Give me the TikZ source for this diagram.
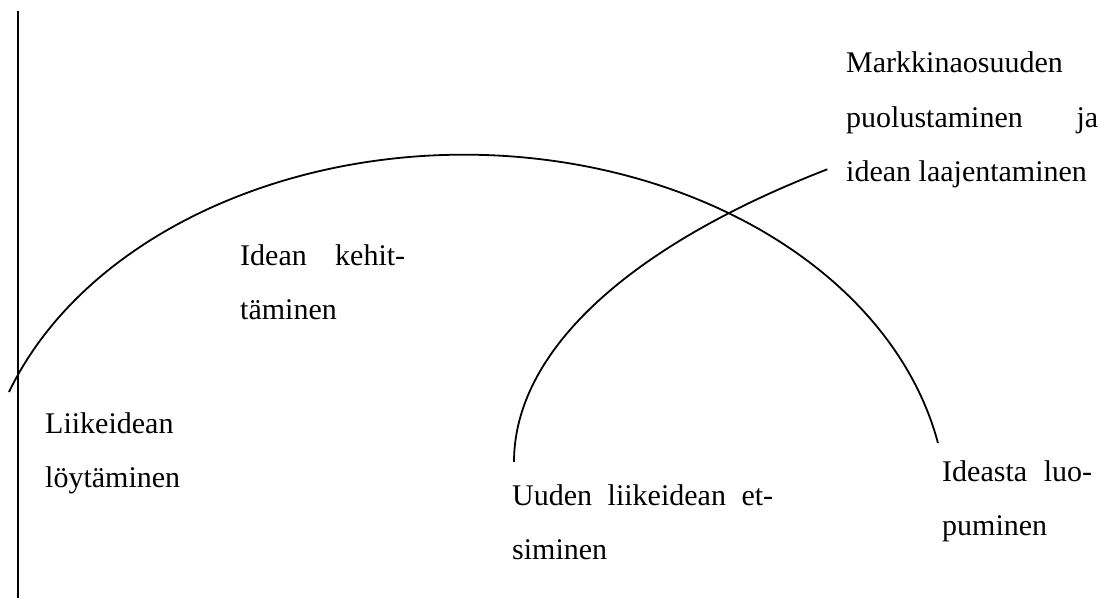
\documentclass[tikz,border=0pt]{standalone}
\usepackage{fontspec}
\setmainfont{Liberation Serif}
\begin{document}
\begin{tikzpicture}[x=1pt,y=1pt,
  curve/.style={line width=1.8pt,black},
  lbl/.style={anchor=base west,inner sep=0pt,font=\fontsize{30}{54.5}\selectfont}]
\useasboundingbox (0,0) rectangle (1111,-607);
% axis
\coordinate (vtop) at (18,-11);
\coordinate (vbot) at (18,-598);
\draw[curve] (vtop) -- (vbot);
% big arc
\coordinate (bigstart) at (9,-392);
\draw[curve] (bigstart) arc[start angle=160.4,end angle=11.1,x radius=483,y radius=357];
% small arc
\coordinate (smallstart) at (514,-462);
\draw[curve] (smallstart) arc[start angle=180,end angle=135,x radius=1070,y radius=414];
% labels
\node[lbl] (find) at (45,-433) {\vtop{\hbox{Liikeidean}\hbox{löytäminen}}};
\node[lbl] (dev) at (240,-265) {\vtop{\hbox{\makebox[165pt][s]{Idean kehit-}}\hbox{täminen}}};
\node[lbl] (new) at (512,-505) {\vtop{\hbox{\makebox[261pt][s]{Uuden liikeidean et-}}\hbox{siminen}}};
\node[lbl] (quit) at (942,-481) {\vtop{\hbox{\makebox[150pt][s]{Ideasta luo-}}\hbox{puminen}}};
\node[lbl] (market) at (846,-72.7) {\vtop{\hbox{Markkinaosuuden}\hbox{\makebox[252pt][s]{puolustaminen ja}}\hbox{idean laajentaminen}}};
\end{tikzpicture}
\end{document}
